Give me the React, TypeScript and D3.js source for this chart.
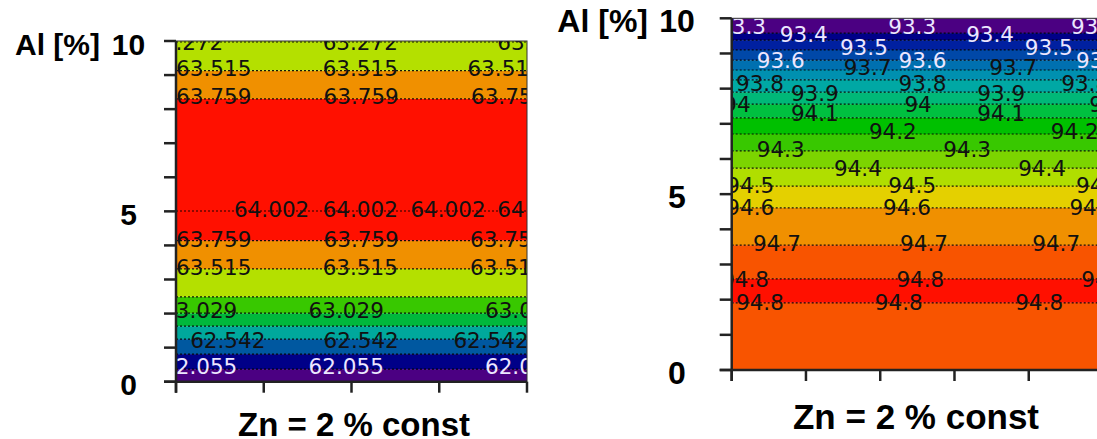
import React from "react";
import * as d3 from "d3";

// ---------- DATA ----------
const alTicks = [0, 1, 2, 3, 4, 5, 6, 7, 8, 9, 10];
const alTickLabels = [0, 5, 10];
const leftZnTicks = [0, 1, 2, 3, 4];
const rightZnTicks = [0, 1, 2, 3, 4, 5];

// Left panel: contour lines (bottom -> top)
const leftLineAl = [0.37, 0.81, 1.25, 1.63, 2.01, 2.49, 3.31, 4.14, 5.01, 8.3, 9.13, 9.97];
const leftLineLevel = [62.055, 62.298, 62.542, 62.785, 63.029, 63.272, 63.515, 63.759, 64.002, 63.759, 63.515, 63.272];
const leftBandColors = [
  "#4b0082", "#000088", "#0058a0", "#00a89c", "#00b83c", "#38c800",
  "#b4e000", "#f09000", "#ff1000", "#ff1000", "#f09000", "#b4e000", "#b4e000",
];
const leftLabels = [
  { text: "63.272", al: 9.95, xs: [0.11, 2.1, 4.09], light: false },
  { text: "63.515", al: 9.18, xs: [0.43, 2.1, 3.75], light: false },
  { text: "63.759", al: 8.36, xs: [0.43, 2.11, 3.79], light: false },
  { text: "64.002", al: 5.04, xs: [1.09, 2.1, 3.1, 4.09], light: false },
  { text: "63.759", al: 4.16, xs: [0.43, 2.11, 3.78], light: false },
  { text: "63.515", al: 3.34, xs: [0.43, 2.1, 3.78], light: false },
  { text: "63.029", al: 2.1, xs: [0.27, 1.94, 3.95], light: false },
  { text: "62.542", al: 1.22, xs: [0.59, 2.11, 3.59], light: false },
  { text: "62.055", al: 0.46, xs: [0.27, 1.94, 3.95], light: true },
];

// Right panel: contour lines (bottom -> top)
const rightLineAl = [1.91, 2.59, 3.55, 4.61, 5.23, 5.74, 6.23, 6.71, 7.17, 7.56, 7.9, 8.25, 8.53, 8.81, 9.1, 9.38, 9.58];
const rightLineLevel = [94.8, 94.8, 94.7, 94.6, 94.5, 94.4, 94.3, 94.2, 94.1, 94.0, 93.9, 93.8, 93.7, 93.6, 93.5, 93.4, 93.3];
const rightBandColors = [
  "#f85400", "#ff1000", "#f85400", "#f09000", "#e4d000", "#b0de00",
  "#7cd400", "#38c800", "#00c000", "#00c040", "#00b878", "#00a8a4",
  "#0090b0", "#0070b0", "#0048a8", "#0020a0", "#000088", "#4b0082",
];
const rightLabels = [
  { text: "93.3", al: 9.78, xs: [0.14, 2.43, 4.89], light: true },
  { text: "93.4", al: 9.53, xs: [0.97, 3.48], light: true },
  { text: "93.5", al: 9.18, xs: [1.78, 4.27], light: true },
  { text: "93.6", al: 8.81, xs: [0.66, 2.57, 4.96], light: true },
  { text: "93.7", al: 8.59, xs: [1.83, 3.79], light: false },
  { text: "93.8", al: 8.15, xs: [0.38, 2.57, 4.76], light: false },
  { text: "93.9", al: 7.85, xs: [1.12, 3.63], light: false },
  { text: "94", al: 7.56, xs: [0.07, 2.51, 5.0], light: false },
  { text: "94.1", al: 7.28, xs: [1.12, 3.63], light: false },
  { text: "94.2", al: 6.77, xs: [2.17, 4.62], light: false },
  { text: "94.3", al: 6.26, xs: [0.66, 3.17], light: false },
  { text: "94.4", al: 5.72, xs: [1.7, 4.18], light: false },
  { text: "94.5", al: 5.26, xs: [0.25, 2.43, 4.96], light: false },
  { text: "94.6", al: 4.61, xs: [0.25, 2.36, 4.87], light: false },
  { text: "94.7", al: 3.61, xs: [0.61, 2.59, 4.37], light: false },
  { text: "94.8", al: 2.56, xs: [0.18, 2.54, 5.03], light: false },
  { text: "94.8", al: 1.91, xs: [0.38, 2.25, 4.14], light: false },
];

const yTitle = "Al [%]";
const xTitle = "Zn = 2 % const";

// ---------- LAYOUT ----------
const W = 1097;
const H = 439;

type PanelCfg = {
  id: string;
  x0: number; x1: number; y0: number; y1: number;
  znTicks: number[];
  lineAl: number[];
  lineLevel: number[];
  bandColors: string[];
  labels: { text: string; al: number; xs: number[]; light: boolean }[];
  labelFont: number;
  tickFont: number;
  titleFont: number;
  tickLabelX: number;
  yTitleEnd: number;
  xTitleX: number;
  xTitleY: number;
};

const panels: PanelCfg[] = [
  {
    id: "L", x0: 176, x1: 527, y0: 41, y1: 381.7,
    znTicks: leftZnTicks, lineAl: leftLineAl, lineLevel: leftLineLevel,
    bandColors: leftBandColors, labels: leftLabels, labelFont: 21.5,
    tickFont: 30, titleFont: 33, tickLabelX: 128.5, yTitleEnd: 100, xTitleX: 354, xTitleY: 436,
  },
  {
    id: "R", x0: 731.7, x1: 1103, y0: 18.3, y1: 370,
    znTicks: rightZnTicks, lineAl: rightLineAl, lineLevel: rightLineLevel,
    bandColors: rightBandColors, labels: rightLabels, labelFont: 21.5,
    tickFont: 32, titleFont: 35, tickLabelX: 677, yTitleEnd: 648, xTitleX: 916, xTitleY: 429,
  },
];

function Panel({ p }: { p: PanelCfg }) {
  const zn = p.znTicks;
  const x = d3.scaleLinear().domain([zn[0], zn[zn.length - 1]]).range([p.x0, p.x1]);
  const y = d3.scaleLinear().domain([0, 10]).range([p.y1, p.y0]);
  const bounds = [0, ...p.lineAl, 10];
  const clipId = `clip-${p.id}`;
  const axisColor = "#222";
  return (
    <g>
      <defs>
        <clipPath id={clipId}>
          <rect x={p.x0} y={p.y0} width={p.x1 - p.x0} height={p.y1 - p.y0} />
        </clipPath>
      </defs>
      <g clipPath={`url(#${clipId})`}>
        {p.bandColors.map((c, i) => (
          <rect
            key={`b${i}`}
            x={p.x0}
            width={p.x1 - p.x0}
            y={y(bounds[i + 1])}
            height={y(bounds[i]) - y(bounds[i + 1])}
            fill={c}
          />
        ))}
        {p.lineAl.map((a, i) => (
          <line
            key={`l${i}`}
            x1={p.x0}
            x2={p.x1}
            y1={y(a)}
            y2={y(a)}
            stroke="#000"
            strokeOpacity={0.9}
            strokeWidth={1.2}
            strokeDasharray="2,2"
            data-level={p.lineLevel[i]}
          />
        ))}
        {p.labels.map((lb, i) =>
          lb.xs.map((u, j) => (
            <text
              key={`t${i}-${j}`}
              x={x(u)}
              y={y(lb.al)}
              textAnchor="middle"
              dominantBaseline="central"
              fontFamily="'DejaVu Sans', Verdana, sans-serif"
              fontSize={p.labelFont}
              fill={lb.light ? "#ece6ff" : "#111"}
            >
              {lb.text}
            </text>
          ))
        )}
      </g>
      {/* frame */}
      <rect
        x={p.x0}
        y={p.y0}
        width={p.x1 - p.x0}
        height={p.y1 - p.y0}
        fill="none"
        stroke="#333"
        strokeWidth={1}
      />
      {/* y axis */}
      <line x1={p.x0} x2={p.x0} y1={p.y0} y2={p.y1 + 11} stroke={axisColor} strokeWidth={2.5} />
      {alTicks.map((t) => (
        <line key={`yt${t}`} x1={p.x0 - 12} x2={p.x0} y1={y(t)} y2={y(t)} stroke={axisColor} strokeWidth={2.5} />
      ))}
      {/* x axis */}
      <line x1={p.x0 - 12} x2={p.x1} y1={p.y1} y2={p.y1} stroke={axisColor} strokeWidth={2.5} />
      {zn.map((t) => (
        <line key={`xt${t}`} x1={x(t)} x2={x(t)} y1={p.y1} y2={p.y1 + 11} stroke={axisColor} strokeWidth={2.5} />
      ))}
      {alTickLabels.map((t) => (
        <text
          key={`ytl${t}`}
          x={p.tickLabelX}
          y={y(t) + 3}
          textAnchor="middle"
          dominantBaseline="central"
          fontFamily="'Liberation Sans', Arial, sans-serif"
          fontWeight="bold"
          fontSize={p.tickFont}
          fill="#000"
        >
          {t}
        </text>
      ))}
      <text
        x={p.yTitleEnd}
        y={y(10) + 3}
        textAnchor="end"
        dominantBaseline="central"
        fontFamily="'Liberation Sans', Arial, sans-serif"
        fontWeight="bold"
        fontSize={p.tickFont}
        fill="#000"
      >
        {yTitle}
      </text>
      <text
        x={p.xTitleX}
        y={p.xTitleY}
        textAnchor="middle"
        fontFamily="'Liberation Sans', Arial, sans-serif"
        fontWeight="bold"
        fontSize={p.titleFont}
        fill="#000"
      >
        {xTitle}
      </text>
    </g>
  );
}

export default function App() {
  return (
    <svg
      width={W}
      height={H}
      viewBox={`0 0 ${W} ${H}`}
      style={{ position: "absolute", left: 0, top: 0, background: "#fff" }}
    >
      <rect x={0} y={0} width={W} height={H} fill="#fff" />
      {panels.map((p) => (
        <Panel key={p.id} p={p} />
      ))}
    </svg>
  );
}
